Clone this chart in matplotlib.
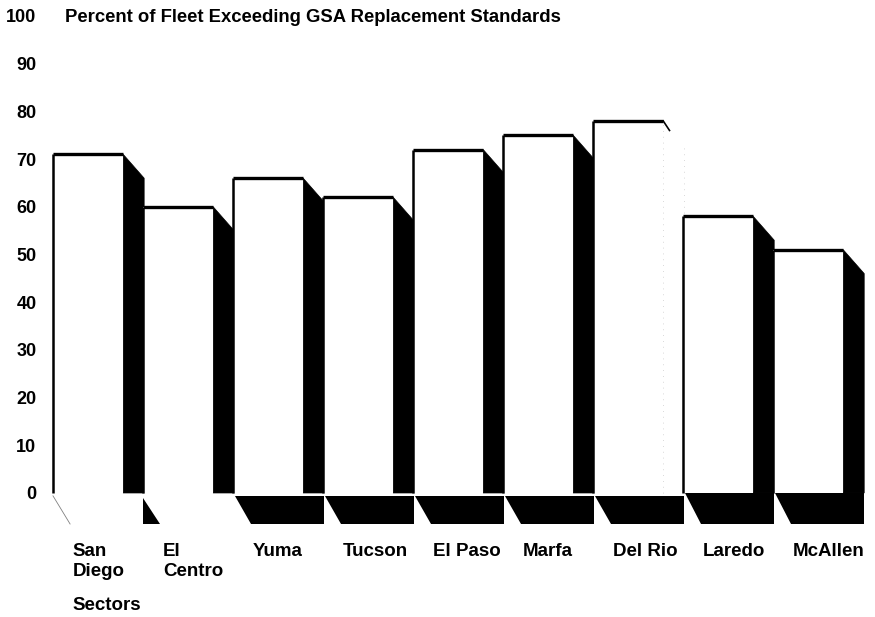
import matplotlib.pyplot as plt
from matplotlib.patches import Polygon

sectors = ["San\nDiego", "El\nCentro", "Yuma", "Tucson", "El Paso",
           "Marfa", "Del Rio", "Laredo", "McAllen"]
percent = [71, 60, 66, 62, 72, 75, 78, 58, 51]
yticks = [0, 10, 20, 30, 40, 50, 60, 70, 80, 90, 100]

plt.rcParams['font.family'] = ['Liberation Sans', 'DejaVu Sans']
plt.rcParams['font.weight'] = 'bold'

fig = plt.figure(figsize=(8.75, 6.17), dpi=100)
ax = fig.add_axes([42 / 875, 0, 1 - 42 / 875, 1])

W = 0.78      # face width (in category units)
DX = 0.233    # shadow depth to the right
DY = 5.0      # shadow drop in percent units

for i, v in enumerate(percent):
    # side shadow (faded out in the scan for Del Rio)
    if i != 6:
        ax.add_patch(Polygon([(i + W, v), (i + W + DX, v - DY),
                              (i + W + DX, 0), (i + W, 0)],
                             closed=True, facecolor='black', edgecolor='black', lw=0.5))
    else:
        ax.plot([i + W, i + W + DX * 0.3], [v, v - DY * 0.4], color='black', lw=1.2)
        ax.plot([i + W, i + W], [0, v], color='0.8', lw=0.6, ls=(0, (1, 6)))
        ax.plot([i + W + DX, i + W + DX], [0, v - DY], color='0.8', lw=0.6, ls=(0, (1, 6)))
    # floor shadow
    if i == 0:
        ax.plot([i, i + 0.19], [-0.6, -6.5], color='0.5', lw=0.6)
    elif i == 1:
        ax.add_patch(Polygon([(i, -1.0), (i, -6.5), (i + 0.19, -6.5)],
                             closed=True, facecolor='black', edgecolor='none'))
    else:
        top = 0 if i >= 7 else -0.6
        ax.add_patch(Polygon([(i + 0.02, top), (i + W + DX, top),
                              (i + W + DX, -6.5), (i + 0.2, -6.5)],
                             closed=True, facecolor='black', edgecolor='none'))

x = list(range(len(percent)))
ax.bar(x, percent, width=W, align='edge', facecolor='white',
       edgecolor='none', linewidth=0, zorder=3)
# outline: left side and top only (no base line)
ax.vlines(x, 0, percent, color='black', lw=1.8, zorder=4)
ax.hlines(percent, x, [i + W for i in x], color='black', lw=2.4, zorder=4)

for i, name in enumerate(sectors):
    ax.text(i + 0.22, -10.4, name, ha='left', va='top', fontsize=13.5,
            fontweight='bold', linespacing=1.3)
ax.text(0.22, -23.5, "Sectors", ha='left', va='center', fontsize=13.5, fontweight='bold')

ax.text(0.133, 99.6, "Percent of Fleet Exceeding GSA Replacement Standards",
        ha='left', va='center', fontsize=13.3, fontweight='bold')

ax.set_xlim(-0.122, 9.133)
ax.set_ylim(-26.0, 103.35)
ax.set_yticks(yticks)
ax.set_yticklabels([str(t) for t in yticks], fontsize=13, fontweight='bold')
ax.tick_params(axis='y', length=0, pad=4)
ax.set_xticks([])
for s in ax.spines.values():
    s.set_visible(False)

fig.savefig("out.png", dpi=100)
